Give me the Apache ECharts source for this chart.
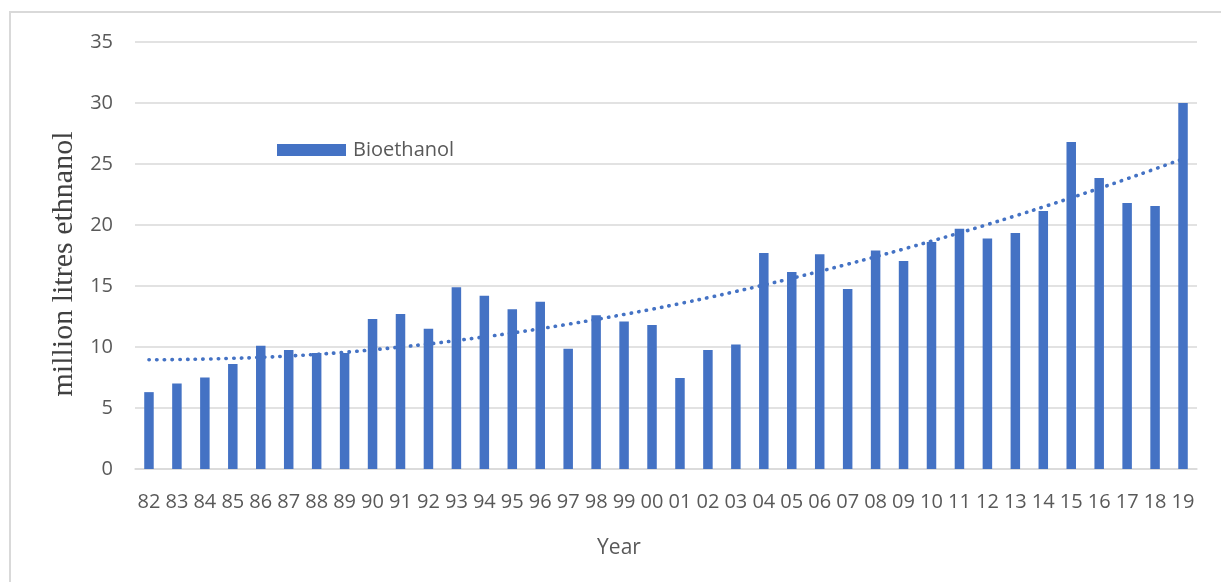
<!DOCTYPE html>
<html>
<head>
<meta charset="utf-8">
<script src="https://cdn.jsdelivr.net/npm/echarts@6/dist/echarts.min.js"></script>
<style>
html,body{margin:0;padding:0;background:#fff;}
#chart{width:1221px;height:582px;}
</style>
</head>
<body>
<div id="chart"></div>
<script>
const years = ['82','83','84','85','86','87','88','89','90','91','92','93','94','95','96','97','98','99','00','01','02','03','04','05','06','07','08','09','10','11','12','13','14','15','16','17','18','19'];
const bioethanol = [6.3,7.0,7.5,8.6,10.1,9.75,9.5,9.5,12.3,12.7,11.5,14.9,14.2,13.1,13.7,9.85,12.6,12.1,11.8,7.45,9.75,10.2,17.7,16.15,17.6,14.75,17.9,17.05,18.6,19.7,18.9,19.35,21.15,26.8,23.85,21.8,21.55,30.0];
const trend = [8.95,8.97,9.01,9.07,9.15,9.26,9.40,9.57,9.77,10.00,10.25,10.53,10.83,11.15,11.50,11.87,12.26,12.67,13.10,13.56,14.04,14.55,15.08,15.63,16.20,16.79,17.40,18.03,18.68,19.35,20.04,20.75,21.48,22.23,23.00,23.79,24.60,25.43];
const yTicks = [0,5,10,15,20,25,30,35];

const chart = echarts.init(document.getElementById('chart'), null, {renderer:'canvas'});
const sans = '"Open Sans", sans-serif';
chart.setOption({
  animation:false,
  backgroundColor:'#ffffff',
  grid:{left:135,right:24,top:42,bottom:113,containLabel:false},
  legend:{
    data:['Bioethanol'],
    left:272, top:135,
    itemWidth:69, itemHeight:12, itemGap:8,
    icon:'rect',
    textStyle:{color:'#595959',fontSize:20,fontFamily:sans,padding:[0,0,0,2]}
  },
  xAxis:{
    type:'category',
    data:years,
    axisLine:{show:true,lineStyle:{color:'#d9d9d9',width:1.5}},
    axisTick:{show:false},
    axisLabel:{color:'#595959',fontSize:20,fontFamily:sans,margin:23,interval:0}
  },
  yAxis:{
    type:'value',
    min:0,max:35,interval:5,
    axisLine:{show:false},
    axisTick:{show:false},
    axisLabel:{color:'#595959',fontSize:20,fontFamily:sans,margin:22,
      formatter:function(v){return yTicks.indexOf(v)>=0?String(v):'';}},
    splitLine:{lineStyle:{color:'#d9d9d9',width:1.5}}
  },
  series:[
    {
      name:'Bioethanol',
      type:'bar',
      data:bioethanol,
      barWidth:9.5,
      itemStyle:{color:'#4472C4'}
    },
    {
      name:'Trend',
      type:'line',
      data:trend,
      smooth:true,
      symbol:'none',
      lineStyle:{color:'#4472C4',width:3.6,type:[0.4,7.3],cap:'round'},
      z:5
    }
  ],
  graphic:[
    {type:'rect',shape:{x:10,y:12,width:1300,height:700},style:{fill:'none',stroke:'#d9d9d9',lineWidth:2},silent:true},
    {type:'text',x:64,y:264,rotation:Math.PI/2,
      style:{text:'million litres ethnanol',fill:'#404040',font:'30px "Liberation Serif", serif',textAlign:'center',textVerticalAlign:'middle'}},
    {type:'text',x:619,y:548,
      style:{text:'Year',fill:'#595959',font:'21px "Open Sans", sans-serif',textAlign:'center',textVerticalAlign:'middle'}}
  ]
});
</script>
</body>
</html>
